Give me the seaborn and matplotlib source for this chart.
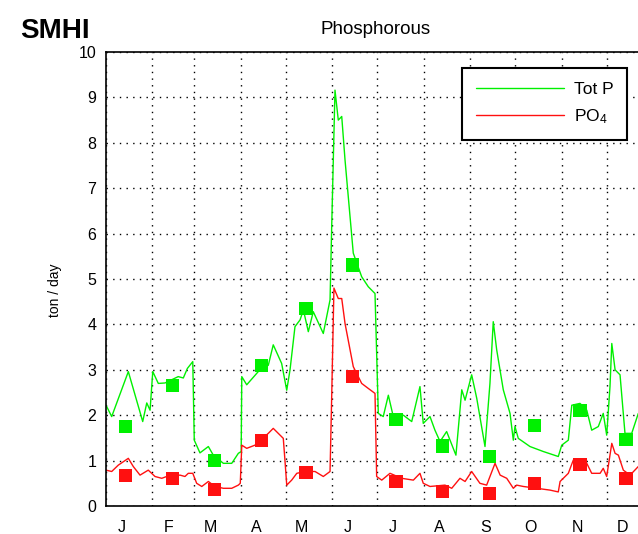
import pandas as pd
import matplotlib.pyplot as plt
import seaborn as sns

sns.set_style("white")
plt.rcParams['font.family'] = ['Liberation Sans', 'DejaVu Sans']
plt.rcParams['mathtext.default'] = 'regular'
plt.rcParams['text.color'] = 'black'
plt.rcParams['xtick.color'] = 'black'
plt.rcParams['ytick.color'] = 'black'

month_letters = ['J', 'F', 'M', 'A', 'M', 'J', 'J', 'A', 'S', 'O', 'N', 'D']
month_starts = [0, 31, 59, 90, 120, 151, 181, 212, 243, 273, 304, 334, 365]

# daily model series (day of year, ton/day)
totp_day = [0, 3.8, 14.9, 24.5, 27.2, 29.4, 31.2, 34.9, 39.4, 48.2, 51.6, 54.3, 57.9,
            58.9, 62.7, 68.3, 71.6, 78.3, 83.9, 88.3, 90.2, 90.6, 93.9, 101.6, 108.3,
            111.6, 117.2, 120.6, 122.8, 126.1, 129.5, 131.7, 135.0, 138.3, 145.0, 149.5,
            150.6, 152.8, 155.0, 157.3, 159.5, 165.0, 170.6, 175.0, 179.5, 180.6, 181.7,
            185.0, 188.4, 191.7, 198.4, 204.0, 209.5, 211.7, 216.2, 219.5, 222.9, 227.3,
            233.5, 237.4, 239.6, 244.0, 247.4, 252.9, 256.2, 258.4, 260.7, 265.1, 269.6,
            271.8, 272.9, 275.1, 282.9, 291.8, 301.8, 304.1, 308.5, 310.8, 316.3, 320.8,
            324.1, 328.5, 331.8, 334.1, 336.3, 337.5, 339.7, 343.0, 346.3, 350.8, 355.2]
totp_val = [2.22, 1.97, 2.96, 1.86, 2.27, 2.11, 2.96, 2.70, 2.71, 2.85, 2.82, 3.03, 3.18,
            1.45, 1.17, 1.31, 1.12, 0.94, 0.94, 1.16, 1.20, 2.85, 2.67, 2.96, 3.10,
            3.55, 3.14, 2.55, 3.00, 3.95, 4.10, 4.32, 3.84, 4.28, 3.80, 4.54,
            6.15, 9.16, 8.50, 8.58, 7.62, 5.57, 5.05, 4.83, 4.68, 3.36, 2.04,
            1.97, 2.44, 1.97, 2.00, 1.86, 2.63, 1.82, 1.97, 1.67, 1.42, 1.64,
            1.12, 2.56, 2.33, 2.89, 2.37, 1.31, 2.70, 4.06, 3.44, 2.56, 2.04,
            1.45, 1.75, 1.49, 1.31, 1.20, 1.09, 1.34, 1.45, 2.22, 2.26, 2.11,
            1.67, 1.75, 2.04, 1.56, 2.63, 3.58, 3.00, 2.89, 1.60, 1.60, 2.04]

po4_day = [0, 3.8, 8.2, 14.9, 18.2, 22.7, 28.2, 32.7, 37.2, 40.5, 49.4, 52.7, 54.9, 57.9,
           60.5, 63.9, 68.3, 72.7, 78.3, 83.9, 88.3, 89.6, 90.6, 93.9, 99.4, 108.3, 111.6,
           118.3, 119.4, 120.6, 123.9, 127.3, 132.8, 139.5, 145.0, 149.5, 150.6, 152.1,
           155.0, 157.3, 159.5, 165.0, 170.6, 175.0, 179.5, 180.6, 184.0, 189.5, 197.3,
           205.1, 209.5, 211.7, 216.2, 226.2, 230.7, 236.2, 239.6, 244.0, 249.5, 254.0,
           259.6, 263.0, 267.4, 271.8, 274.0, 278.5, 287.4, 296.3, 301.8, 303.0, 308.5,
           311.8, 320.8, 324.1, 329.7, 331.8, 334.1, 337.5, 339.7, 341.9, 345.2, 349.7, 355.2]
po4_val = [0.79, 0.76, 0.90, 1.05, 0.87, 0.68, 0.79, 0.65, 0.61, 0.65, 0.68, 0.65, 0.72, 0.72,
           0.50, 0.43, 0.54, 0.43, 0.39, 0.39, 0.46, 0.50, 1.34, 1.27, 1.34, 1.60, 1.71,
           1.49, 1.01, 0.46, 0.57, 0.72, 0.76, 0.76, 0.65, 0.76, 2.41, 4.80,
           4.57, 4.57, 4.02, 3.07, 2.70, 2.59, 2.48, 0.65, 0.57, 0.72, 0.61,
           0.57, 0.72, 0.50, 0.43, 0.46, 0.39, 0.61, 0.54, 0.76, 0.50, 0.46,
           0.94, 0.68, 0.61, 0.39, 0.46, 0.43, 0.39, 0.35, 0.31, 0.54, 0.72,
           1.01, 0.94, 0.72, 0.72, 0.83, 0.65, 1.38, 1.16, 1.12, 0.79, 0.68, 0.87]

# monthly measurements
sample_day = [13.1, 44.2, 72.3, 103.9, 133.5, 164.6, 193.5, 224.7, 255.8, 285.8, 316.3, 347.0]
sample_totp = [1.76, 2.65, 1.01, 3.09, 4.35, 5.31, 1.91, 1.32, 1.09, 1.77, 2.11, 1.47]
sample_po4 = [0.68, 0.61, 0.37, 1.44, 0.74, 2.86, 0.54, 0.32, 0.28, 0.50, 0.92, 0.61]

green = '#00f000'
red = '#ff1010'

W, H = 638, 534
fig = plt.figure(figsize=(W / 100, H / 100), dpi=100)
ax = fig.add_axes([106 / W, 28 / H, 547 / W, 454 / H])

totp = pd.DataFrame({'day': totp_day, 'val': totp_val})
po4 = pd.DataFrame({'day': po4_day, 'val': po4_val})
samples = pd.DataFrame({'day': sample_day, 'totp': sample_totp, 'po4': sample_po4})

sns.lineplot(data=totp, x='day', y='val', sort=False, estimator=None, color=green,
             lw=1.0, ax=ax, label='Tot P')
sns.lineplot(data=po4, x='day', y='val', sort=False, estimator=None, color=red,
             lw=1.0, ax=ax, label='PO$_4$')
sns.scatterplot(data=samples, x='day', y='totp', marker='s', s=90, color=green,
                edgecolor='none', ax=ax, legend=False, zorder=3)
sns.scatterplot(data=samples, x='day', y='po4', marker='s', s=90, color=red,
                edgecolor='none', ax=ax, legend=False, zorder=3)

ax.set_xlim(0, 365)
ax.set_ylim(0, 10)
ax.set_xticks(month_starts)
ax.set_xticklabels([])
ax.set_xticks([s + 10.5 for s in month_starts[:-1]], minor=True)
ax.set_xticklabels(month_letters, minor=True)
ax.set_yticks(range(0, 11))
ax.tick_params(axis='both', which='major', direction='in', length=4, width=1,
               labelsize=11.5, color='black')
ax.tick_params(axis='y', pad=7)
ax.tick_params(axis='x', which='minor', length=0, labelsize=11.5, pad=10)
ax.grid(True, which='major', color='black', linestyle=(0, (1, 3.8)), linewidth=1)
ax.set_xlabel('')
ax.set_ylabel('')
for sp in ax.spines.values():
    sp.set_color('black')
    sp.set_linewidth(1.2)

handles, labels = ax.get_legend_handles_labels()
leg = ax.legend(handles, labels, loc='upper left', bbox_to_anchor=(462 / W, 1 - 68 / H),
                bbox_transform=fig.transFigure, borderaxespad=0, fontsize=12.5,
                handlelength=5.1, handletextpad=0.55, labelspacing=0.6,
                borderpad=0.8, fancybox=False, framealpha=1)
leg.get_frame().set_edgecolor('black')
leg.get_frame().set_linewidth(1.5)

fig.text(376 / W, 1 - 30 / H, 'Phosphorous', ha='center', va='center', fontsize=13.5)
fig.text(55 / W, 1 - 290 / H, 'ton / day', rotation=90, ha='center', va='center',
         fontsize=10)
fig.text(20 / W, 1 - 38 / H, 'SMHI', ha='left', va='baseline', fontsize=20,
         fontweight='bold', color='black')

fig.savefig('out.png', dpi=100)
